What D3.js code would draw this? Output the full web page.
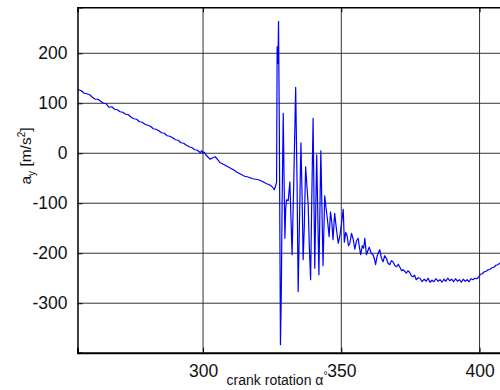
<!DOCTYPE html>
<html><head><meta charset="utf-8">
<script src="https://cdn.jsdelivr.net/npm/d3@7"></script>
<style>body{margin:0;background:#fff}svg{display:block}</style>
</head><body>
<svg id="c" width="500" height="390"></svg>
<script>
const xTicks = [300, 350, 400];
const yTicks = [-300, -200, -100, 0, 100, 200];
const angle = [254.6,255,256,257,258,259,260,261,262,263,264,265,266,267,268,269,270,271,272,273,274,275,276,277,278,279,280,281,282,283,284,285,286,287,288,289,290,291,292,293,294,295,296,297,298,299,299.6,300,300.5,301,302,302.6,303.5,304.4,305.2,306.2,307,308,309,310,311,312,313,314,315,316,317,318,319,320,321,322,323,324,325,325.8,326.3,326.6,
326.8,327.1,327.3,327.6,328.0,328.3,328.6,329.0,329.3,329.6,329.9,330.2,330.8,331.4,331.8,332.2,332.8,333.5,334.0,334.4,335.0,335.4,335.8,336.2,336.6,337.1,337.5,338.0,338.4,338.9,339.3,339.8,340.4,341.1,341.9,342.6,343.4,344.0,344.5,345.0,345.6,346.1,346.6,347.0,347.6,348.2,348.9,349.5,350.1,350.7,351.1,351.6,352.1,352.6,353.1,353.7,354.3,354.9,355.5,356.1,356.6,357.0,357.6,358.1,358.5,359.1,359.6,360.1,360.8,361.5,362.0,362.4,363.0,363.9,364.5,365.1,365.7,366.3,366.9,367.5,368.1,368.7,369.4,370.0,370.6,371.2,371.8,372.3,372.9,373.5,374.1,374.7,375.3,375.9,376.5,377.1,377.8,378.5,379.2,380.0,380.7,381.4,382.1,382.8,383.5,384.2,385.0,385.7,386.4,387.1,387.8,388.5,389.2,389.9,390.6,391.3,392.0,392.7,393.4,394.1,394.8,395.5,396.2,396.9,397.6,398.3,399.0,399.8,400.3,401.0,401.7,402.4,403.1,403.8,404.5,405.2,405.9,406.6,407.3,408.0,408.7,409.4];
const accel = [128,127,125,120,119,117,112,108,108,104,100,99,92,93,88,87,83,82,78,77,72,69,68,63,62,58,56,54,49,48,45,41,40,35,34,31,27,26,21,20,16,13,11,7,6,1,5,0,2,-3,-9,-12,-9,-7,-12,-19,-21,-24,-27,-30,-33,-37,-40,-43,-46,-47,-49,-51,-52,-53,-55,-58,-61,-63,-67,-73,-64,-58,
213,180,264,40,-383,-280,-100,80,-50,-170,-110,-93,-95,-57,-130,-203,-60,132,-60,-277,-100,21,-80,-213,-150,-27,-60,-100,-180,-253,-100,70,-230,-3,-243,5,-225,-85,-110,-133,-167,-117,-140,-173,-120,-150,-180,-165,-140,-112,-178,-158,-165,-185,-180,-160,-172,-192,-175,-170,-190,-203,-185,-190,-170,-203,-195,-188,-200,-203,-212,-223,-205,-193,-210,-217,-205,-210,-220,-223,-215,-217,-225,-227,-222,-228,-235,-233,-236,-240,-235,-238,-245,-247,-244,-253,-249,-250,-257,-252,-256,-250,-258,-254,-257,-251,-256,-253,-258,-252,-256,-250,-255,-252,-257,-251,-256,-253,-258,-252,-256,-253,-257,-251,-253,-250,-251,-247,-242,-241,-237,-236,-233,-232,-229,-228,-224,-223,-220,-219,-216,-214];

const svg = d3.select('#c');
const L = 77.5, T = 7.3, R = 505, B = 352.7;
const x = d3.scaleLinear().domain([254.6, 409.2]).range([L, R]);
const y = d3.scaleLinear().domain([-399, 292]).range([B, T]);
const FONT = 'Liberation Sans, Arial, sans-serif';

// grid
const g = svg.append('g');
g.selectAll('.gx').data(xTicks).join('line')
  .attr('x1', d => x(d)).attr('x2', d => x(d)).attr('y1', T).attr('y2', B)
  .attr('stroke', '#333').attr('stroke-width', 1);
g.selectAll('.gy').data(yTicks).join('line')
  .attr('x1', L).attr('x2', R).attr('y1', d => y(d)).attr('y2', d => y(d))
  .attr('stroke', '#333').attr('stroke-width', 1);

// data line
const data = angle.map((a, i) => [a, accel[i]]);
svg.append('path').datum(data)
  .attr('fill', 'none').attr('stroke', '#0000ff').attr('stroke-width', 1.2)
  .attr('stroke-linejoin', 'round')
  .attr('d', d3.line().x(d => x(d[0])).y(d => y(d[1])));

// axes (ticks inward, MATLAB style)
const fmt = d => String(d);
const xAxis = d3.axisBottom(x).tickValues(xTicks).tickSize(-5).tickPadding(12).tickFormat(fmt);
const yAxis = d3.axisLeft(y).tickValues(yTicks).tickSize(-5).tickPadding(10).tickFormat(fmt);
const ax = svg.append('g').attr('transform', `translate(0,${B})`).call(xAxis);
const ay = svg.append('g').attr('transform', `translate(${L},0)`).call(yAxis);
const axR = svg.append('g').attr('transform', `translate(${R},0)`).call(d3.axisRight(y).tickValues(yTicks).tickSize(-5).tickFormat(''));
const axT = svg.append('g').attr('transform', `translate(0,${T})`).call(d3.axisTop(x).tickValues(xTicks).tickSize(-5).tickFormat(''));
[ax, ay, axR, axT].forEach(a => {
  a.select('.domain').attr('stroke', '#000').attr('stroke-width', 1.5);
  a.selectAll('.tick line').attr('stroke', '#000');
  a.selectAll('.tick text').attr('font-family', FONT).attr('font-size', 17.5).attr('fill', '#111');
});
ax.select('.domain').attr('stroke-width', 2);

// labels
svg.append('text').attr('x', 277).attr('y', 385)
  .attr('text-anchor', 'middle').attr('font-family', FONT).attr('font-size', 14).attr('fill', '#111')
  .text('crank rotation α').append('tspan').attr('dy', -6).attr('font-size', 10).text('°');

const yl = svg.append('text').attr('transform', 'translate(31,156) rotate(-90)')
  .attr('text-anchor', 'middle').attr('font-family', FONT).attr('font-size', 15.5).attr('fill', '#111');
yl.append('tspan').text('a');
yl.append('tspan').attr('dy', 4).attr('font-size', 10).text('y');
yl.append('tspan').attr('dy', -4).text(' [m/s');
yl.append('tspan').attr('dy', -6).attr('font-size', 10).text('2');
yl.append('tspan').attr('dy', 6).text(']');
</script>
</body></html>
